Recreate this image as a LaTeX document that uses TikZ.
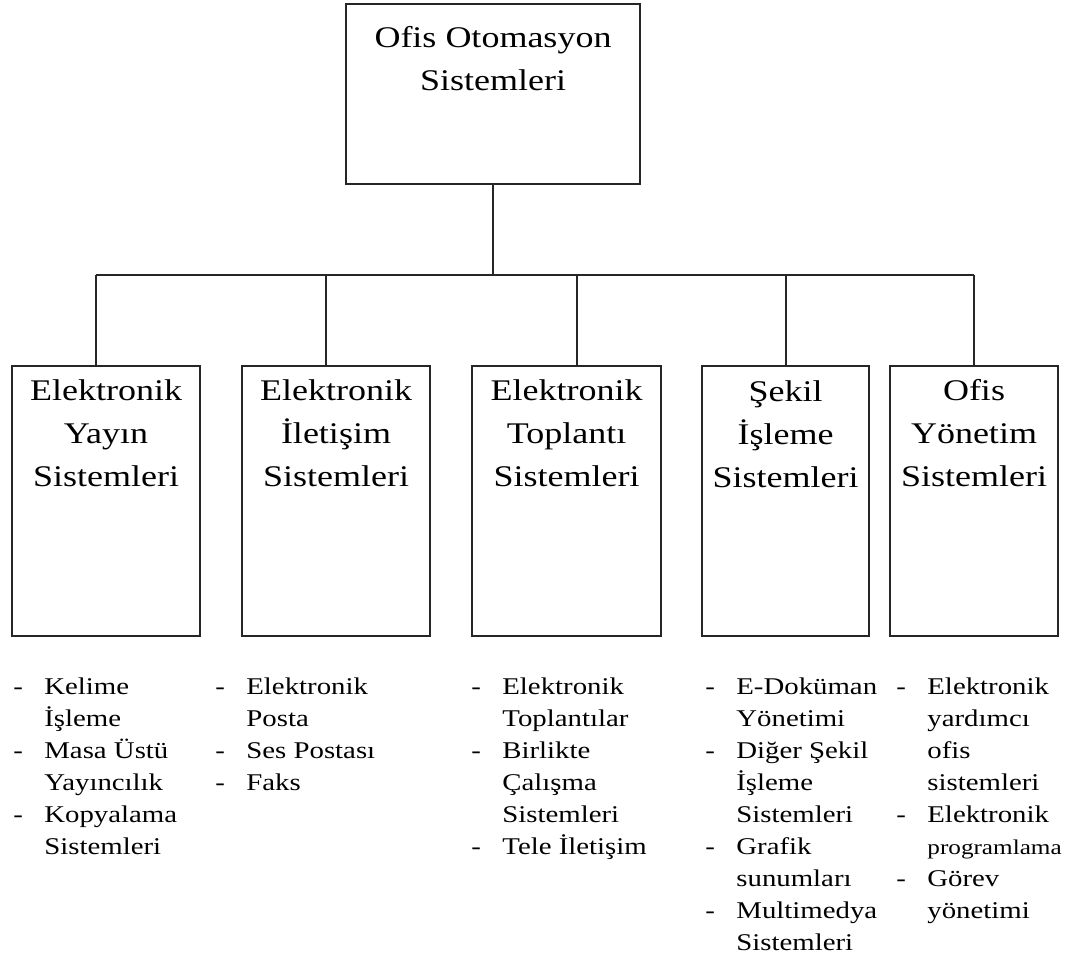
\documentclass[tikz,border=0pt]{standalone}
\usepackage{fontspec}
\setmainfont{Liberation Serif}[FakeStretch=1.2]
\usetikzlibrary{positioning}
\newcommand{\Liste}[1]{\begin{tabular}[t]{@{}p{15.5pt}@{}l@{}}#1\end{tabular}}

\begin{document}
\begin{tikzpicture}[x=0.5pt, y=-0.5pt]
	\tikzstyle{Box} = [rectangle, draw=black!85, line width=0.8pt, minimum height=135pt, inner sep=0pt]
	\tikzstyle{BoxText} = [anchor=north, align=center, inner sep=0pt, font=\fontsize{15}{21.5}\selectfont]
	\tikzstyle{List} = [anchor=base west, inner sep=0pt, font=\fontsize{12}{16}\selectfont]
	\tikzstyle{line} = [draw=black!85, line width=0.75pt]
	\useasboundingbox (0,0) rectangle (1081,965);

	% top box
	\node (oos) [Box, minimum width=147pt, minimum height=90pt] at (493,94) {};
	\node (oosT) [BoxText] at (493,26) {Ofis Otomasyon\\Sistemleri};

	% sub systems
	\node (eys) [Box, minimum width=94pt] at (106,501) {};
	\node (eis) [Box, minimum width=94pt] at (336,501) {};
	\node (ets) [Box, minimum width=94.5pt] at (566.5,501) {};
	\node (sis) [Box, minimum width=83.5pt] at (785.5,501) {};
	\node (oys) [Box, minimum width=84pt] at (974,501) {};
	\node (eysT) [BoxText] at (106,379) {Elektronik\\Yayın\\Sistemleri};
	\node (eisT) [BoxText] at (336,379) {Elektronik\\İletişim\\Sistemleri};
	\node (etsT) [BoxText] at (566.5,379) {Elektronik\\Toplantı\\Sistemleri};
	\node (sisT) [BoxText] at (785.5,380) {Şekil\\İşleme\\Sistemleri};
	\node (oysT) [BoxText] at (974,379) {Ofis\\Yönetim\\Sistemleri};

	% connectors
	\coordinate (bus) at (0,275);
	\draw [line] (oos.south) -- (oos.south |- bus);
	\draw [line] ([xshift=-5pt]eys.north |- bus) -- (oys.north |- bus);
	\foreach \n/\s in {eys/-5pt, eis/-5pt, ets/5.25pt, sis/0.25pt, oys/0pt}
		\draw [line] ([xshift=\s]\n.north) -- ([xshift=\s]\n.north |- bus);

	% lists
	\node (eysL) [List] at (13,694) {\Liste{- & Kelime\\ & İşleme\\ - & Masa Üstü\\ & Yayıncılık\\ - & Kopyalama\\ & Sistemleri}};
	\node (eisL) [List] at (215,694) {\Liste{- & Elektronik\\ & Posta\\ - & Ses Postası\\ - & Faks}};
	\node (etsL) [List] at (471,694) {\Liste{- & Elektronik\\ & Toplantılar\\ - & Birlikte\\ & Çalışma\\ & Sistemleri\\ - & Tele İletişim}};
	\node (sisL) [List] at (705,694) {\Liste{- & E-Doküman\\ & Yönetimi\\ - & Diğer Şekil\\ & İşleme\\ & Sistemleri\\ - & Grafik\\ & sunumları\\ - & Multimedya\\ & Sistemleri}};
	\node (oysL) [List] at (896,694) {\Liste{- & Elektronik\\ & yardımcı\\ & ofis\\ & sistemleri\\ - & Elektronik\\ & {\fontsize{10.5}{16}\selectfont programlama}\\ - & Görev\\ & yönetimi}};
\end{tikzpicture}
\end{document}
